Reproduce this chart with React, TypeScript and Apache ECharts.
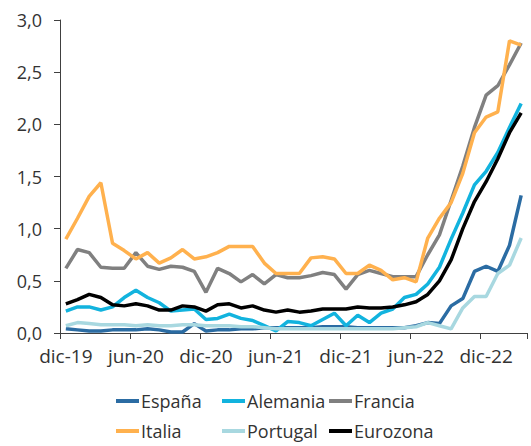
import React, { useEffect, useRef } from "react";
import * as echarts from "echarts";

const months = [
  "dic-19", "ene-20", "feb-20", "mar-20", "abr-20", "may-20", "jun-20", "jul-20", "ago-20", "sep-20", "oct-20", "nov-20",
  "dic-20", "ene-21", "feb-21", "mar-21", "abr-21", "may-21", "jun-21", "jul-21", "ago-21", "sep-21", "oct-21", "nov-21",
  "dic-21", "ene-22", "feb-22", "mar-22", "abr-22", "may-22", "jun-22", "jul-22", "ago-22", "sep-22", "oct-22", "nov-22",
  "dic-22", "ene-23", "feb-23", "mar-23",
];

const espana = [
  0.04, 0.03, 0.02, 0.02, 0.03, 0.03, 0.03, 0.04, 0.03, 0.01, 0.01, 0.09,
  0.02, 0.03, 0.03, 0.04, 0.04, 0.05, 0.05, 0.05, 0.05, 0.05, 0.06, 0.06,
  0.06, 0.05, 0.05, 0.05, 0.05, 0.05, 0.07, 0.10, 0.09, 0.26, 0.33, 0.59,
  0.64, 0.59, 0.84, 1.32,
];
const alemania = [
  0.21, 0.25, 0.25, 0.22, 0.25, 0.34, 0.41, 0.34, 0.29, 0.21, 0.22, 0.23,
  0.13, 0.14, 0.18, 0.14, 0.12, 0.07, 0.02, 0.11, 0.10, 0.07, 0.13, 0.19,
  0.07, 0.17, 0.10, 0.19, 0.23, 0.34, 0.37, 0.47, 0.63, 0.90, 1.15, 1.42,
  1.55, 1.73, 1.97, 2.20,
];
const francia = [
  0.62, 0.80, 0.77, 0.63, 0.62, 0.62, 0.77, 0.64, 0.61, 0.64, 0.63, 0.59,
  0.39, 0.62, 0.57, 0.49, 0.56, 0.47, 0.56, 0.53, 0.53, 0.55, 0.58, 0.56,
  0.42, 0.56, 0.60, 0.57, 0.54, 0.54, 0.54, 0.75, 0.94, 1.27, 1.60, 1.97,
  2.28, 2.37, 2.57, 2.78,
];
const italia = [
  0.90, 1.10, 1.31, 1.44, 0.86, 0.79, 0.71, 0.77, 0.67, 0.72, 0.80, 0.71,
  0.73, 0.77, 0.83, 0.83, 0.83, 0.67, 0.57, 0.57, 0.57, 0.72, 0.73, 0.71,
  0.57, 0.57, 0.65, 0.60, 0.51, 0.53, 0.49, 0.91, 1.10, 1.25, 1.53, 1.92,
  2.07, 2.12, 2.80, 2.76,
];
const portugal = [
  0.07, 0.10, 0.09, 0.08, 0.08, 0.08, 0.07, 0.08, 0.07, 0.07, 0.08, 0.08,
  0.07, 0.07, 0.07, 0.06, 0.06, 0.05, 0.04, 0.04, 0.04, 0.04, 0.04, 0.04,
  0.04, 0.04, 0.04, 0.04, 0.04, 0.05, 0.06, 0.10, 0.07, 0.04, 0.24, 0.35,
  0.35, 0.57, 0.65, 0.91,
];
const eurozona = [
  0.28, 0.32, 0.37, 0.34, 0.27, 0.26, 0.28, 0.26, 0.22, 0.22, 0.26, 0.25,
  0.21, 0.27, 0.28, 0.24, 0.26, 0.22, 0.20, 0.22, 0.20, 0.21, 0.23, 0.23,
  0.23, 0.25, 0.24, 0.24, 0.25, 0.27, 0.30, 0.37, 0.50, 0.70, 1.00, 1.26,
  1.45, 1.67, 1.92, 2.11,
];

const seriesNames = ["España", "Alemania", "Francia", "Italia", "Portugal", "Eurozona"];
const seriesData = [espana, alemania, francia, italia, portugal, eurozona];
const seriesColors = ["#2B6CA3", "#12B3DE", "#808080", "#FFB14E", "#A8D8E0", "#000000"];

const FONT = "'Open Sans', 'Noto Sans', sans-serif";
const TEXT_COLOR = "#333333";
const AXIS_COLOR = "#404040";

export default function App() {
  const ref = useRef<HTMLDivElement>(null);

  useEffect(() => {
    if (!ref.current) return;
    const chart = echarts.init(ref.current, null, { renderer: "svg" });

    const legendCols = [116, 222, 329];
    const legendRows = [392, 422];
    const legends = seriesNames.map((name, i) => ({
      data: [name],
      left: legendCols[i % 3],
      top: legendRows[Math.floor(i / 3)],
      padding: 0,
      icon: "rect",
      itemWidth: 23,
      itemHeight: 4,
      itemGap: 0,
      selectedMode: false,
      textStyle: { fontFamily: FONT, fontSize: 18, color: TEXT_COLOR, padding: [0, 0, 0, -3] },
    }));

    chart.setOption({
      animation: false,
      backgroundColor: "#ffffff",
      grid: { left: 60, right: 4, top: 20, bottom: 113, containLabel: false },
      legend: legends,
      xAxis: {
        type: "category",
        data: months,
        boundaryGap: true,
        axisLine: { show: true, lineStyle: { color: AXIS_COLOR, width: 1 } },
        axisTick: { show: true, interval: 5, length: 6, lineStyle: { color: AXIS_COLOR } },
        axisLabel: {
          interval: 5,
          margin: 13,
          fontFamily: FONT,
          fontSize: 19,
          color: TEXT_COLOR,
        },
        splitLine: { show: false },
      },
      yAxis: {
        type: "value",
        min: 0,
        max: 3,
        interval: 0.5,
        axisLine: { show: true, lineStyle: { color: AXIS_COLOR, width: 1 } },
        axisTick: { show: true, length: 6, lineStyle: { color: AXIS_COLOR } },
        axisLabel: {
          margin: 18,
          fontFamily: FONT,
          fontSize: 18,
          color: TEXT_COLOR,
          formatter: (v: number) => v.toFixed(1).replace(".", ","),
        },
        splitLine: { show: false },
      },
      series: seriesNames.map((name, i) => ({
        name,
        type: "line",
        data: seriesData[i],
        showSymbol: false,
        symbol: "none",
        color: seriesColors[i],
        lineStyle: { color: seriesColors[i], width: 3.5 },
        itemStyle: { color: seriesColors[i] },
      })),
    });

    return () => chart.dispose();
  }, []);

  return (
    <div
      ref={ref}
      style={{ position: "fixed", left: 0, top: 0, width: 531, height: 446 }}
    />
  );
}
